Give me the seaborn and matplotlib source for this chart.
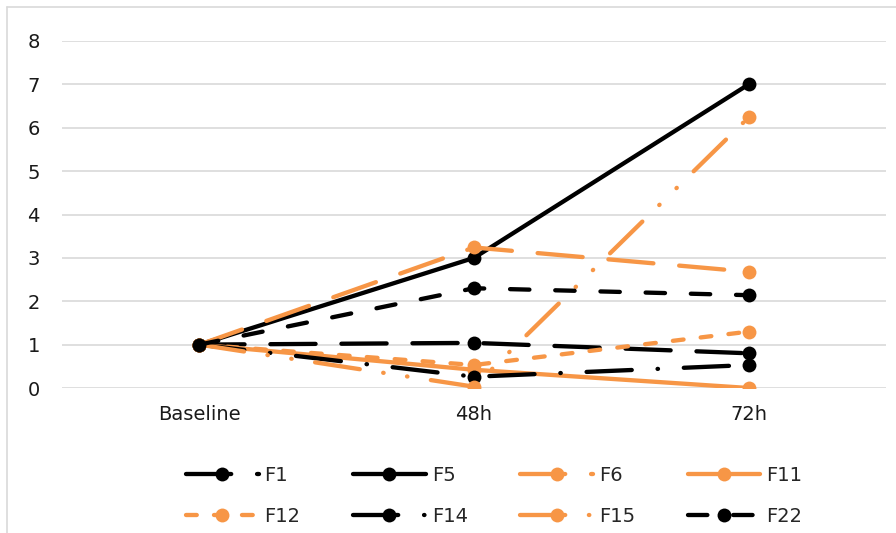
import matplotlib
matplotlib.use("Agg")
import matplotlib.pyplot as plt
import matplotlib.lines as mlines
import seaborn as sns
import pandas as pd

# valeurs
categories = ["Baseline", "48h", "72h"]
series = ["F1", "F5", "F6", "F11", "F12", "F14", "F15", "F22"]
F1 = [1, 1.04, 0.80]
F5 = [1, 3.0, 7.0]
F6 = [1, 3.24, 2.68]
F11 = [1, 0.42, 0.0]
F12 = [1, 0.53, 1.30]
F14 = [1, 0.26, 0.53]
F15 = [1, 0.03, 6.24]
F22 = [1, 2.30, 2.14]
values = [F1, F5, F6, F11, F12, F14, F15, F22]

BLACK = "#000000"
ORANGE = "#F79646"
palette = {"F1": BLACK, "F5": BLACK, "F6": ORANGE, "F11": ORANGE,
           "F12": ORANGE, "F14": BLACK, "F15": ORANGE, "F22": BLACK}
dashes = {"F1": (10.5, 6), "F5": "", "F6": (10.5, 6), "F11": "",
          "F12": (2.5, 4), "F14": (10.5, 6, 0.1, 6),
          "F15": (10.5, 5.5, 0.1, 5.5, 0.1, 5.5), "F22": (4.5, 6)}
markers = {s: "o" for s in series}

rows = []
for name, vals in zip(series, values):
    for i, v in enumerate(vals):
        rows.append({"x": i, "value": v, "series": name})
df = pd.DataFrame(rows)

sns.set_style("white")
plt.rcParams["font.family"] = ["DejaVu Sans"]
plt.rcParams["lines.dash_capstyle"] = "round"
plt.rcParams["lines.solid_capstyle"] = "round"
plt.rcParams["lines.dash_joinstyle"] = "round"
plt.rcParams["lines.solid_joinstyle"] = "round"

fig = plt.figure(figsize=(8.96, 5.33), dpi=100)
ax = fig.add_axes([62 / 896, 1 - 388 / 533, (886 - 62) / 896, (388 - 41) / 533])

sns.lineplot(data=df, x="x", y="value", hue="series", style="series",
             hue_order=series, style_order=series, palette=palette,
             dashes=dashes, markers=markers, linewidth=3.1, markersize=10,
             markeredgewidth=0, errorbar=None, sort=False, legend=False, ax=ax)

ax.set_xlim(-0.5, 2.5)
ax.set_ylim(0, 8)
ax.set_xticks(range(len(categories)))
ax.set_xticklabels(categories)
ax.set_yticks(range(0, 9))
ax.set_xlabel("")
ax.set_ylabel("")
ax.grid(axis="y", color="#d9d9d9", linewidth=1.2)
ax.set_axisbelow(True)
for sp in ax.spines.values():
    sp.set_visible(False)
ax.tick_params(axis="both", length=0, labelsize=14, colors="#1a1a1a")
ax.tick_params(axis="y", pad=16)
ax.tick_params(axis="x", pad=12)

# légende sur deux lignes, remplie ligne par ligne
lines = dict(zip(series, list(ax.get_lines())[:len(series)]))
ncol = 4
order = [series[r * ncol + c] for c in range(ncol) for r in range(2)]
fig.legend([lines[s] for s in order], order, ncol=ncol, loc="center",
           bbox_to_anchor=(494 / 896, 1 - 496 / 533), frameon=False,
           fontsize=14, handlelength=3.75, handletextpad=0.3,
           columnspacing=2.7, labelspacing=1.15, numpoints=1)

# cadre du graphique
fig.add_artist(mlines.Line2D([7 / 896, 7 / 896], [0, 1 - 7 / 533],
                             transform=fig.transFigure, color="#d9d9d9", lw=1.2))
fig.add_artist(mlines.Line2D([7 / 896, 1], [1 - 7 / 533, 1 - 7 / 533],
                             transform=fig.transFigure, color="#d9d9d9", lw=1.2))

fig.savefig("out.png", dpi=100)
